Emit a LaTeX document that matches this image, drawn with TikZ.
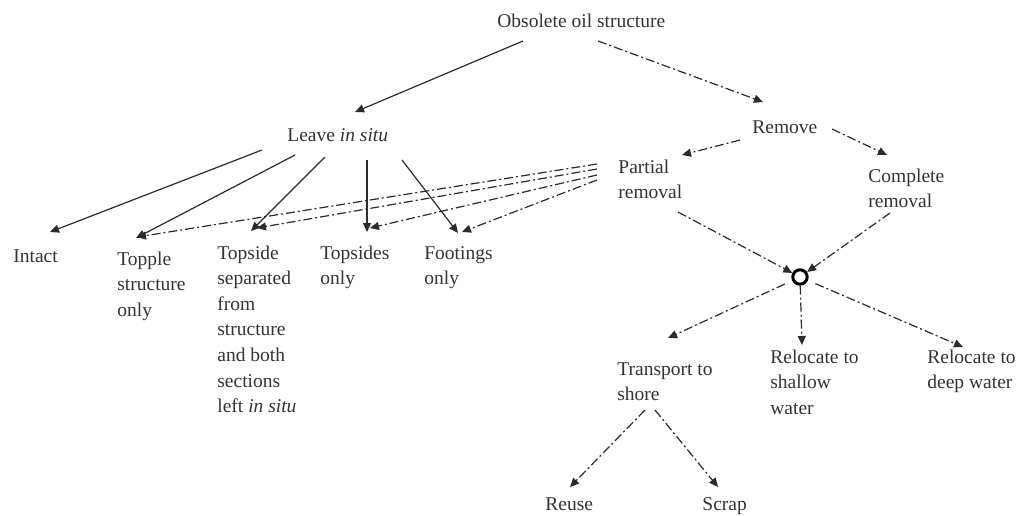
\documentclass[tikz,border=0pt]{standalone}
\usepackage{fontspec}
\setmainfont{Liberation Serif}
\usepackage{tikz}
\usetikzlibrary{arrows.meta,calc}
\definecolor{inkgray}{HTML}{2B2B2B}
\definecolor{txtgray}{HTML}{333333}
\newcommand{\situ}{\textit{in situ}}
% stacked label, baseline on its first line
\newcommand{\txtlines}[1]{\begin{tabular}[t]{@{}l@{}}#1\end{tabular}}
\tikzset{
  lbl/.style     = {anchor=base west,inner sep=0pt,text=txtgray,
                    font=\fontsize{9.75}{12.8}\selectfont},
  solidarr/.style= {-{Triangle[length=4.5pt,width=4pt]},line width=0.6pt,inkgray},
  dasharr/.style = {solidarr,dash pattern=on 4.5pt off 1.5pt on 1pt off 1.5pt},
  hubnode/.style = {circle,draw=black,line width=1.5pt,minimum size=7.2pt,inner sep=0pt}
}
\begin{document}
\begin{tikzpicture}[x=0.5pt,y=-0.5pt]
  \useasboundingbox (0,0) rectangle (1017,515);
  \node[lbl] (obs)      at (497,27)  {Obsolete oil structure};
  \node[lbl] (leave)    at (287,141) {Leave \situ};
  \node[lbl] (remove)   at (752,133) {Remove};
  \node[lbl] (partial)  at (618,173) {\txtlines{Partial\\removal}};
  \node[lbl] (complete) at (868,182) {\txtlines{Complete\\removal}};
  \node[lbl] (intact)   at (13,262)  {Intact};
  \node[lbl] (topple)   at (117,265) {\txtlines{Topple\\structure\\only}};
  \node[lbl] (topside)  at (217,259) {\txtlines{Topside\\separated\\from\\structure\\and both\\sections\\left \situ}};
  \node[lbl] (topsides) at (320,259) {\txtlines{Topsides\\only}};
  \node[lbl] (footings) at (424,259) {\txtlines{Footings\\only}};
  \node[hubnode] (hub)  at (800,277) {};
  \node[lbl] (transport) at (617,375) {\txtlines{Transport to\\shore}};
  \node[lbl] (shallow)  at (770,363) {\txtlines{Relocate to\\shallow\\water}};
  \node[lbl] (deep)     at (927,363) {\txtlines{Relocate to\\deep water}};
  \node[lbl] (reuse)    at (545,510) {Reuse};
  \node[lbl] (scrap)    at (702,510) {Scrap};
  % top split
  \draw[solidarr] ($(obs.base west)+(26,14)$)  -- ($(leave.base west)+(68,-29)$);
  \draw[dasharr]  ($(obs.base west)+(101,14)$) -- ($(remove.base west)+(11,-31)$);
  % left in situ options
  \draw[solidarr] ($(leave.base west)+(-25,9)$)  -- ($(intact.base west)+(37,-30)$);
  \draw[solidarr] ($(leave.base west)+(8,14)$)   -- ($(topple.base west)+(19,-27)$);
  \draw[solidarr] ($(leave.base west)+(38,16)$)  -- ($(topside.base west)+(34,-28)$);
  \draw[solidarr] ($(leave.base west)+(80,19)$)  -- ($(topsides.base west)+(47,-27)$);
  \draw[solidarr] ($(leave.base west)+(115,19)$) -- ($(footings.base west)+(34,-26)$);
  % partial removal leaves the rest in situ
  \draw[dasharr] ($(partial.base west)+(-21,-9)$) -- ($(topple.base west)+(20,-28)$);
  \draw[dasharr] ($(partial.base west)+(-21,-4)$) -- ($(topside.base west)+(40,-31)$);
  \draw[dasharr] ($(partial.base west)+(-21,2)$)  -- ($(topsides.base west)+(50,-31)$);
  \draw[dasharr] ($(partial.base west)+(-21,7)$)  -- ($(footings.base west)+(38,-27)$);
  % removal
  \draw[dasharr] ($(remove.base west)+(-12,7)$)  -- ($(partial.base west)+(64,-18)$);
  \draw[dasharr] ($(remove.base west)+(80,-4)$)  -- ($(complete.base west)+(19,-27)$);
  \draw[dasharr] ($(partial.base west)+(60,39)$)  -- (hub);
  \draw[dasharr] ($(complete.base west)+(22,31)$) -- (hub);
  \draw[dasharr,shorten <=4pt] (hub) -- ($(transport.base west)+(51,-37)$);
  \draw[dasharr] (hub) -- ($(shallow.base west)+(32,-18)$);
  \draw[dasharr,shorten <=4pt] (hub) -- ($(deep.base west)+(36,-16)$);
  \draw[dasharr] ($(transport.base west)+(28,35)$) -- ($(reuse.base west)+(25,-23)$);
  \draw[dasharr] ($(transport.base west)+(38,35)$) -- ($(scrap.base west)+(16,-23)$);
\end{tikzpicture}
\end{document}
